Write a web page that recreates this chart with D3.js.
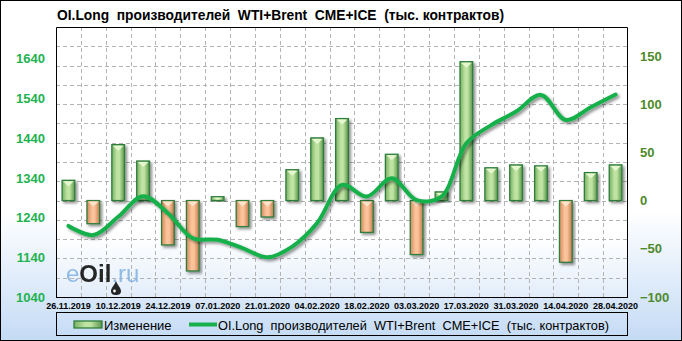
<!DOCTYPE html>
<html>
<head>
<meta charset="utf-8">
<script src="https://cdn.jsdelivr.net/npm/d3@7/dist/d3.min.js"></script>
<style>
  body { margin: 0; background: #fff; }
  text { font-family: "Liberation Sans", Arial, sans-serif; }
</style>
</head>
<body>
<div id="chart"></div>
<script>
var dates = ["26.11.2019", "03.12.2019", "10.12.2019", "17.12.2019", "24.12.2019", "31.12.2019",
  "07.01.2020", "14.01.2020", "21.01.2020", "28.01.2020", "04.02.2020", "11.02.2020",
  "18.02.2020", "25.02.2020", "03.03.2020", "10.03.2020", "17.03.2020", "24.03.2020",
  "31.03.2020", "07.04.2020", "14.04.2020", "21.04.2020", "28.04.2020"]
var change = [21, -24, 58, 41, -46, -73, 4, -27, -17, 32, 65, 85, -33, 48, -56, 9, 144, 34, 37, 36, -64, 29, 37]
var oiLong = [1219, 1196, 1242, 1294, 1251, 1188, 1184, 1163, 1140, 1167, 1226, 1322, 1293, 1339, 1284, 1293, 1427, 1473, 1507, 1549, 1486, 1518, 1550]
var leftTicks = [1040, 1140, 1240, 1340, 1440, 1540, 1640]
var rightTicks = [-100, -50, 0, 50, 100, 150]
var titleText = "OI.Long  производителей  WTI+Brent  CME+ICE  (тыс. контрактов)"
var barLabel = "Изменение"

var width = 682, height = 341
var plot = { "left": 56, "right": 628, "top": 27, "bottom": 297 }

var svg = d3.select("#chart").append("svg")
  .attr("width", width)
  .attr("height", height)

var defs = svg.append("defs")

// background gradients
var bgGrad = defs.append("linearGradient").attr("id", "bg").attr("x1", 0).attr("y1", 0).attr("x2", 0).attr("y2", 1)
bgGrad.append("stop").attr("offset", "0%").attr("stop-color", "#ffffff")
bgGrad.append("stop").attr("offset", "62%").attr("stop-color", "#ffffff")
bgGrad.append("stop").attr("offset", "100%").attr("stop-color", "#c4dbf5")

var plotGrad = defs.append("linearGradient").attr("id", "plotbg").attr("x1", 0).attr("y1", 0).attr("x2", 0).attr("y2", 1)
plotGrad.append("stop").attr("offset", "0%").attr("stop-color", "#ffffff")
plotGrad.append("stop").attr("offset", "78%").attr("stop-color", "#ffffff")
plotGrad.append("stop").attr("offset", "100%").attr("stop-color", "#e2edfa")

function barGradient(id, edge, mid, edge2) {
  var g = defs.append("linearGradient").attr("id", id).attr("x1", 0).attr("y1", 0).attr("x2", 1).attr("y2", 0)
  g.append("stop").attr("offset", "0%").attr("stop-color", edge)
  g.append("stop").attr("offset", "40%").attr("stop-color", mid)
  g.append("stop").attr("offset", "60%").attr("stop-color", mid)
  g.append("stop").attr("offset", "100%").attr("stop-color", edge2)
}
barGradient("gUp", "#78b062", "#bfe3a2", "#5a964a")
barGradient("gDown", "#d28a5c", "#fbc39a", "#c47a4c")

var shadow = defs.append("filter").attr("id", "shadow")
  .attr("x", "-30%").attr("y", "-10%").attr("width", "160%").attr("height", "130%")
shadow.append("feDropShadow")
  .attr("dx", 2).attr("dy", 2).attr("stdDeviation", 1.4)
  .attr("flood-color", "#000").attr("flood-opacity", 0.45)

// chart background + border
svg.append("rect")
  .attr("x", 0.5).attr("y", 0.5)
  .attr("width", width - 1).attr("height", height - 1)
  .attr("fill", "url(#bg)")
  .attr("stroke", "#000")

svg.append("rect")
  .attr("x", plot.left).attr("y", plot.top)
  .attr("width", plot.right - plot.left).attr("height", plot.bottom - plot.top)
  .attr("fill", "url(#plotbg)")

// scales
var x = d3.scaleBand().domain(dates).range([plot.left, plot.right]).padding(0)
var yL = d3.scaleLinear().domain([1040, 1720]).range([plot.bottom, plot.top])
var yR = d3.scaleLinear().domain([-100, 180]).range([plot.bottom, plot.top])

// grid
var grid = svg.append("g").attr("class", "grid")
  .attr("stroke", "#b4b4b4").attr("stroke-dasharray", "4,3")
grid.selectAll("line.v").data(dates.slice(1)).enter().append("line")
  .attr("class", "v")
  .attr("x1", function (d) { return Math.round(x(d)) + 0.5 })
  .attr("x2", function (d) { return Math.round(x(d)) + 0.5 })
  .attr("y1", plot.top).attr("y2", plot.bottom)
grid.selectAll("line.h").data(d3.range(-80, 180, 20)).enter().append("line")
  .attr("class", "h")
  .attr("x1", plot.left).attr("x2", plot.right)
  .attr("y1", function (d) { return Math.round(yR(d)) + 0.5 })
  .attr("y2", function (d) { return Math.round(yR(d)) + 0.5 })

// watermark
var wm = svg.append("g").attr("class", "watermark").attr("opacity", 0.9)
var wmText = wm.append("text")
  .attr("x", 66).attr("y", 282)
  .attr("font-size", 24).attr("font-weight", "bold")
  .style("font-family", "'Liberation Sans', Arial, sans-serif")
wmText.append("tspan").attr("fill", "#86b6e4").attr("font-weight", "normal").text("e")
wmText.append("tspan").attr("fill", "#111").text("Oil")
wmText.append("tspan").attr("fill", "#86b6e4").attr("font-weight", "normal").text(".ru")
wm.append("path")
  .attr("d", "M116,281 C114,286 111,288 111,291 C111,294 113,295 116,295 C119,295 121,294 121,291 C121,288 118,286 116,281 Z")
  .attr("fill", "#111")
wm.append("circle").attr("cx", 114.5).attr("cy", 291).attr("r", 1.4).attr("fill", "#fff")

// bars
var barW = x.bandwidth() * 0.51
var bars = svg.append("g").attr("class", "bars")
var barG = bars.selectAll("g.bar").data(change).enter().append("g")
  .attr("class", "bar")
  .attr("filter", "url(#shadow)")
barG.append("rect")
  .attr("x", function (d, i) { return x(dates[i]) + (x.bandwidth() - barW) / 2 })
  .attr("y", function (d) { return d >= 0 ? yR(d) : yR(0) })
  .attr("width", barW)
  .attr("height", function (d) { return Math.abs(yR(d) - yR(0)) })
  .attr("fill", function (d) { return d >= 0 ? "url(#gUp)" : "url(#gDown)" })
  .attr("stroke", "#2f7d3e")
  .attr("stroke-width", 1.3)
barG.append("path")
  .attr("d", function (d, i) {
    var lx = x(dates[i]) + (x.bandwidth() - barW) / 2 + 1
    var rx = lx + barW - 2
    var ty = (d >= 0 ? yR(d) : yR(0)) + 1
    var h = Math.min(5, Math.abs(yR(d) - yR(0)) - 2)
    if (h < 1) return ""
    return "M" + lx + "," + ty + "L" + rx + "," + ty + "L" + (lx + rx) / 2 + "," + (ty + h) + "Z"
  })
  .attr("fill", function (d) { return d >= 0 ? "#e4f7cf" : "#fde3cc" })

// line
var line = d3.line()
  .x(function (d, i) { return x(dates[i]) + x.bandwidth() / 2 })
  .y(function (d) { return yL(d) })
  .curve(d3.curveCatmullRom.alpha(0.5))
svg.append("path")
  .datum(oiLong)
  .attr("d", line)
  .attr("fill", "none")
  .attr("stroke", "#17b04c")
  .attr("stroke-width", 4)
  .attr("stroke-linecap", "round")
  .attr("filter", "url(#shadow)")

// plot border
svg.append("path")
  .attr("d", "M" + (plot.left + 0.5) + "," + plot.bottom + "V" + (plot.top + 0.5) + "H" + (plot.right - 0.5) + "V" + plot.bottom)
  .attr("fill", "none").attr("stroke", "#000")
svg.append("line")
  .attr("x1", plot.left).attr("x2", plot.right)
  .attr("y1", plot.bottom + 0.5).attr("y2", plot.bottom + 0.5)
  .attr("stroke", "#000")

// axes
var leftAxis = svg.append("g")
  .attr("transform", "translate(" + (plot.left - 11) + ",0)")
  .call(d3.axisLeft(yL).tickValues(leftTicks).tickSize(0).tickPadding(0).tickFormat(d3.format("d")))
leftAxis.select(".domain").remove()
leftAxis.selectAll("text")
  .attr("fill", "#1db34f").attr("font-size", 13).attr("font-weight", "bold")
  .style("font-family", "'Liberation Sans', Arial, sans-serif")

var rightAxis = svg.append("g")
  .attr("transform", "translate(" + (plot.right + 12) + ",0)")
  .call(d3.axisRight(yR).tickValues(rightTicks).tickSize(0).tickPadding(0).tickFormat(d3.format("d")))
rightAxis.select(".domain").remove()
rightAxis.selectAll("text")
  .attr("fill", "#4e8a2c").attr("font-size", 13).attr("font-weight", "bold")
  .style("font-family", "'Liberation Sans', Arial, sans-serif")

var bottomAxis = svg.append("g")
  .attr("transform", "translate(0," + plot.bottom + ")")
  .call(d3.axisBottom(x).tickValues(dates.filter(function (d, i) { return i % 2 === 0 })).tickSize(0).tickPadding(6))
bottomAxis.select(".domain").remove()
bottomAxis.selectAll("text")
  .attr("fill", "#000").attr("font-size", 9).attr("font-weight", "bold")
  .style("font-family", "'Liberation Sans', Arial, sans-serif")

// title
svg.append("text")
  .attr("x", 57).attr("y", 20)
  .attr("font-size", 14).attr("font-weight", "bold")
  .attr("fill", "#000")
  .attr("textLength", 447).attr("lengthAdjust", "spacingAndGlyphs")
  .style("white-space", "pre")
  .text(titleText)

// legend
var legend = svg.append("g").attr("class", "legend")
legend.append("rect")
  .attr("x", plot.left + 0.5).attr("y", 312.5)
  .attr("width", plot.right - plot.left - 1).attr("height", 23)
  .attr("fill", "none").attr("stroke", "#000")
legend.append("rect")
  .attr("x", 74).attr("y", 321).attr("width", 28).attr("height", 7)
  .attr("fill", "url(#gUp)").attr("stroke", "#2f7d3e").attr("stroke-width", 1.3)
legend.append("text")
  .attr("x", 104).attr("y", 329.5)
  .attr("font-size", 13).attr("fill", "#000")
  .text(barLabel)
legend.append("line")
  .attr("x1", 189).attr("x2", 217).attr("y1", 324.5).attr("y2", 324.5)
  .attr("stroke", "#17b04c").attr("stroke-width", 4)
legend.append("text")
  .attr("x", 218).attr("y", 329.5)
  .attr("font-size", 13).attr("fill", "#000")
  .attr("textLength", 391).attr("lengthAdjust", "spacingAndGlyphs")
  .style("white-space", "pre")
  .text(titleText)
</script>
</body>
</html>
